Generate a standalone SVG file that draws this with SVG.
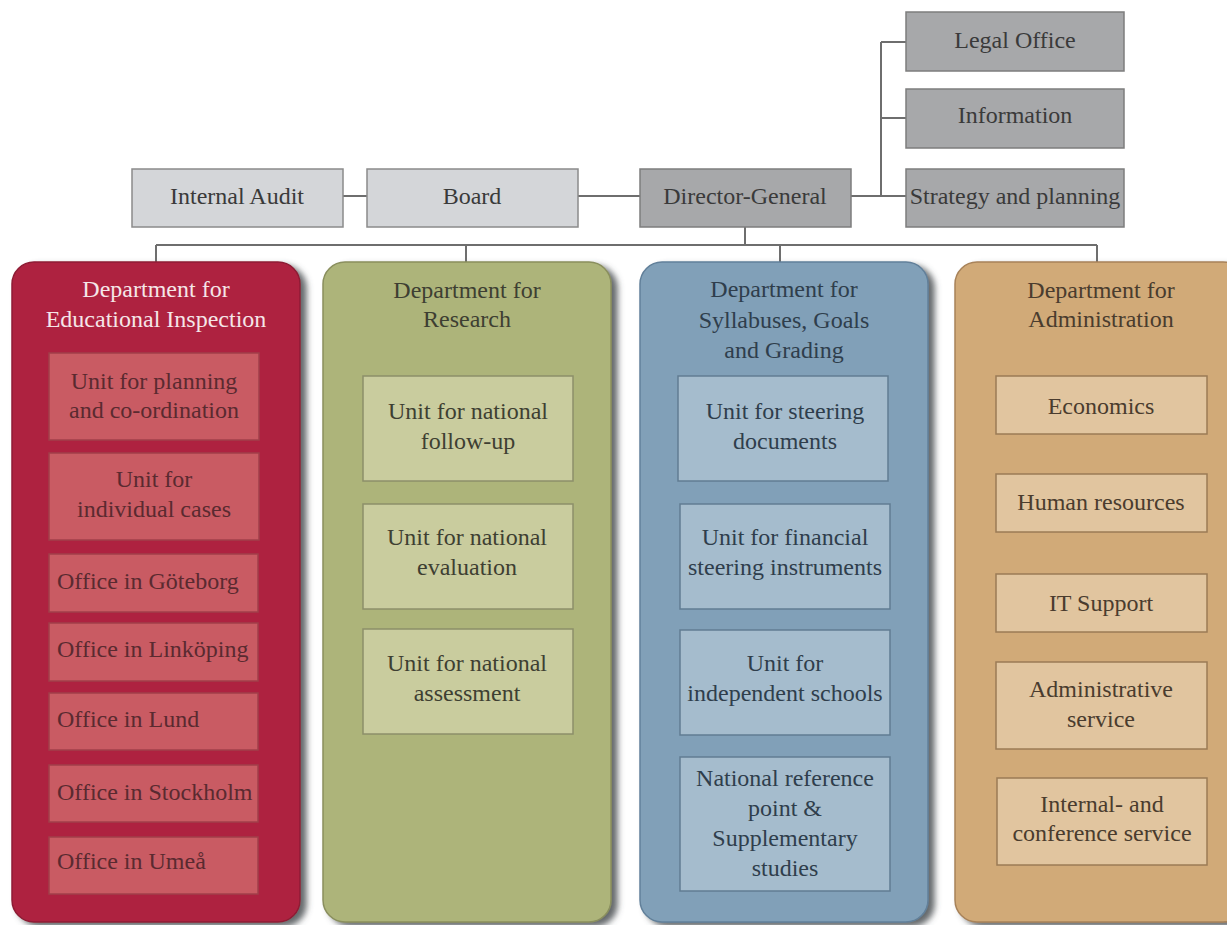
<svg xmlns="http://www.w3.org/2000/svg" width="1227" height="925" viewBox="0 0 1227 925">
<defs>
<filter id="sh" x="-10%" y="-10%" width="130%" height="120%">
<feGaussianBlur in="SourceAlpha" stdDeviation="3"/>
<feOffset dx="6" dy="4" result="b"/>
<feFlood flood-color="#4a4f52" flood-opacity="0.85"/>
<feComposite in2="b" operator="in"/>
<feMerge><feMergeNode/><feMergeNode in="SourceGraphic"/></feMerge>
</filter>
<style>
text{font-family:"Liberation Serif","Times New Roman",serif;font-size:24px;text-anchor:middle}
.lt{fill:#d4d6d9;stroke:#8b8b8b;stroke-width:1.5}
.dk{fill:#a7a8aa;stroke:#7d7d7d;stroke-width:1.5}
.tt{fill:#3a3a3a}
.con{stroke:#6e6e6e;stroke-width:2;fill:none}
.dR{fill:#ae2440;stroke:#8e1d35;stroke-width:1.5}
.uR{fill:#c95b63;stroke:#a13f4a;stroke-width:1.5}
.tR{fill:#f5e6e8}
.xR{fill:#5a2a30}
.dG{fill:#adb47a;stroke:#8a8f5e;stroke-width:1.5}
.uG{fill:#c9cc9e;stroke:#8c8f6a;stroke-width:1.5}
.xG{fill:#3e3f32}
.dB{fill:#81a0b8;stroke:#62809a;stroke-width:1.5}
.uB{fill:#a5bccd;stroke:#617c92;stroke-width:1.5}
.xB{fill:#2f3e4c}
.dT{fill:#d1aa78;stroke:#a8835a;stroke-width:1.5}
.uT{fill:#e1c59f;stroke:#9b7b55;stroke-width:1.5}
.xT{fill:#4a3c2e}
.l{text-anchor:start}
</style>
</defs>
<rect width="1227" height="925" fill="#ffffff"/>

<g id="connectors">
<line class="con" x1="343" y1="196" x2="367" y2="196"/>
<line class="con" x1="578" y1="196" x2="640" y2="196"/>
<line class="con" x1="851" y1="196" x2="906" y2="196"/>
<line class="con" x1="881" y1="42" x2="881" y2="196"/>
<line class="con" x1="881" y1="42" x2="906" y2="42"/>
<line class="con" x1="881" y1="118" x2="906" y2="118"/>
<line class="con" x1="745" y1="227" x2="745" y2="245"/>
<line class="con" x1="156" y1="245" x2="1097" y2="245"/>
<line class="con" x1="156" y1="245" x2="156" y2="263"/>
<line class="con" x1="466" y1="245" x2="466" y2="263"/>
<line class="con" x1="780" y1="245" x2="780" y2="263"/>
<line class="con" x1="1097" y1="245" x2="1097" y2="263"/>
</g>

<g id="internal-audit"><rect class="lt" x="132" y="169" width="211" height="58"/><text class="tt" x="237" y="204">Internal Audit</text></g>
<g id="board"><rect class="lt" x="367" y="169" width="211" height="58"/><text class="tt" x="472" y="204">Board</text></g>
<g id="director-general"><rect class="dk" x="640" y="169" width="211" height="58"/><text class="tt" x="745" y="204">Director-General</text></g>
<g id="legal-office"><rect class="dk" x="906" y="12" width="218" height="59"/><text class="tt" x="1015" y="48">Legal Office</text></g>
<g id="information"><rect class="dk" x="906" y="89" width="218" height="59"/><text class="tt" x="1015" y="123">Information</text></g>
<g id="strategy"><rect class="dk" x="906" y="169" width="218" height="58"/><text class="tt" x="1015" y="204">Strategy and planning</text></g>

<g id="dept-inspection">
<rect class="dR" x="12" y="262" width="288" height="660" rx="22" filter="url(#sh)"/>
<text class="tR" x="156" y="297">Department for</text>
<text class="tR" x="156" y="327">Educational Inspection</text>
</g>
<g id="unit-planning"><rect class="uR" x="49" y="353" width="210" height="87"/><text class="xR" x="154" y="389">Unit for planning</text><text class="xR" x="154" y="418">and co-ordination</text></g>
<g id="unit-individual"><rect class="uR" x="49" y="453" width="210" height="87"/><text class="xR" x="154" y="487">Unit for</text><text class="xR" x="154" y="517">individual cases</text></g>
<g id="office-goteborg"><rect class="uR" x="49" y="554" width="209" height="58"/><text class="xR l" x="57" y="589">Office in Göteborg</text></g>
<g id="office-linkoping"><rect class="uR" x="49" y="623" width="209" height="58"/><text class="xR l" x="57" y="657">Office in Linköping</text></g>
<g id="office-lund"><rect class="uR" x="49" y="693" width="209" height="57"/><text class="xR l" x="57" y="727">Office in Lund</text></g>
<g id="office-stockholm"><rect class="uR" x="49" y="765" width="209" height="57"/><text class="xR l" x="57" y="800">Office in Stockholm</text></g>
<g id="office-umea"><rect class="uR" x="49" y="837" width="209" height="57"/><text class="xR l" x="57" y="869">Office in Umeå</text></g>

<g id="dept-research">
<rect class="dG" x="323" y="262" width="288" height="660" rx="22" filter="url(#sh)"/>
<text class="xG" x="467" y="298">Department for</text>
<text class="xG" x="467" y="327">Research</text>
</g>
<g id="unit-followup"><rect class="uG" x="363" y="376" width="210" height="105"/><text class="xG" x="468" y="419">Unit for national</text><text class="xG" x="468" y="449">follow-up</text></g>
<g id="unit-evaluation"><rect class="uG" x="363" y="504" width="210" height="105"/><text class="xG" x="467" y="545">Unit for national</text><text class="xG" x="467" y="575">evaluation</text></g>
<g id="unit-assessment"><rect class="uG" x="363" y="629" width="210" height="105"/><text class="xG" x="467" y="671">Unit for national</text><text class="xG" x="467" y="701">assessment</text></g>

<g id="dept-syllabuses">
<rect class="dB" x="640" y="262" width="288" height="660" rx="22" filter="url(#sh)"/>
<text class="xB" x="784" y="297">Department for</text>
<text class="xB" x="784" y="328">Syllabuses, Goals</text>
<text class="xB" x="784" y="358">and Grading</text>
</g>
<g id="unit-steering"><rect class="uB" x="678" y="376" width="210" height="105"/><text class="xB" x="785" y="419">Unit for steering</text><text class="xB" x="785" y="449">documents</text></g>
<g id="unit-financial"><rect class="uB" x="680" y="504" width="210" height="105"/><text class="xB" x="785" y="545">Unit for financial</text><text class="xB" x="785" y="575">steering instruments</text></g>
<g id="unit-independent"><rect class="uB" x="680" y="630" width="210" height="105"/><text class="xB" x="785" y="671">Unit for</text><text class="xB" x="785" y="701">independent schools</text></g>
<g id="unit-national-ref"><rect class="uB" x="680" y="757" width="210" height="134"/><text class="xB" x="785" y="786">National reference</text><text class="xB" x="785" y="816">point &amp;</text><text class="xB" x="785" y="846">Supplementary</text><text class="xB" x="785" y="876">studies</text></g>

<g id="dept-administration">
<rect class="dT" x="955" y="262" width="290" height="660" rx="22" filter="url(#sh)"/>
<text class="xT" x="1101" y="298">Department for</text>
<text class="xT" x="1101" y="327">Administration</text>
</g>
<g id="unit-economics"><rect class="uT" x="996" y="376" width="211" height="58"/><text class="xT" x="1101" y="414">Economics</text></g>
<g id="unit-hr"><rect class="uT" x="996" y="474" width="211" height="58"/><text class="xT" x="1101" y="510">Human resources</text></g>
<g id="unit-it"><rect class="uT" x="996" y="574" width="211" height="58"/><text class="xT" x="1101" y="611">IT Support</text></g>
<g id="unit-admin-service"><rect class="uT" x="996" y="662" width="211" height="87"/><text class="xT" x="1101" y="697">Administrative</text><text class="xT" x="1101" y="727">service</text></g>
<g id="unit-conference"><rect class="uT" x="997" y="778" width="210" height="87"/><text class="xT" x="1102" y="812">Internal- and</text><text class="xT" x="1102" y="841">conference service</text></g>
</svg>
